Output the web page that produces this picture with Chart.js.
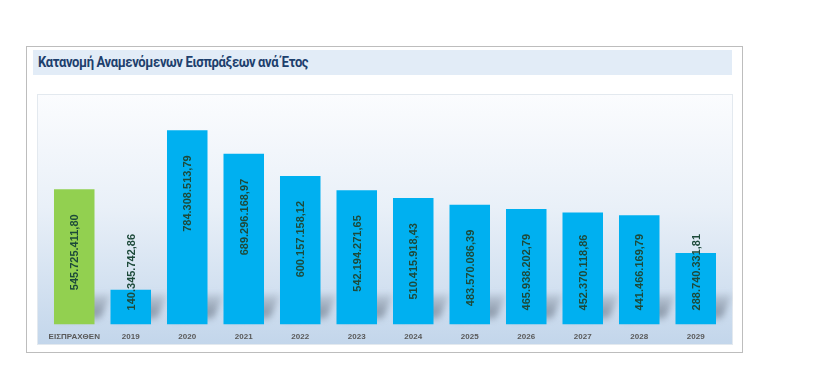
<!DOCTYPE html>
<html>
<head>
<meta charset="utf-8">
<script src="https://cdn.jsdelivr.net/npm/chart.js@4/dist/chart.umd.min.js"></script>
<style>
  body { margin: 0; background: #fff; width: 826px; height: 390px; position: relative; overflow: hidden; }
  #frame { position: absolute; left: 26px; top: 46px; width: 717px; height: 307px; border: 1px solid #bdbdbd; box-sizing: border-box; }
  #title { position: absolute; left: 33px; top: 50px; width: 699px; height: 25px; background: #e2ecf7; }
  #title span { position: absolute; left: 5px; top: 4px; font-family: Roboto, sans-serif; font-weight: 700; font-size: 14px; color: #1d3f6d;
                letter-spacing: -0.4px; white-space: nowrap; transform: scaleX(0.93); transform-origin: left center; }
  #panel { position: absolute; left: 37px; top: 94px; width: 696px; height: 251px; border: 1px solid #e3e9ef; box-sizing: border-box;
           background: linear-gradient(to bottom, #fbfcfe 0%, #e9f0f8 45%, #c3d6eb 100%); }
  #panel canvas { position: absolute; left: -1px; top: -1px; }
</style>
</head>
<body>
<div id="frame"></div>
<div id="title"><span>Κατανομή Αναμενόμενων Εισπράξεων ανά Έτος</span></div>
<div id="panel"><canvas id="chart" width="696" height="259"></canvas></div>
<script>
const categories = ['ΕΙΣΠΡΑΧΘΕΝ', '2019', '2020', '2021', '2022', '2023', '2024', '2025', '2026', '2027', '2028', '2029'];
const amounts = [545725411.80, 140345742.86, 784308513.79, 689296168.97, 600157158.12, 542194271.65,
                 510415918.43, 483570086.39, 465938202.79, 452370118.86, 441466169.79, 288740331.81];

// 784.308.513,79 style
function fmt(v) {
    const parts = v.toFixed(2).split('.');
    return parts[0].replace(/\B(?=(\d{3})+(?!\d))/g, '.') + ',' + parts[1];
}

const shadowPlugin = {
    id: 'barShadow',
    beforeDatasetsDraw(chart) {
        const ctx = chart.ctx;
        const base = chart.scales.y.getPixelForValue(0);
        ctx.save();
        ctx.filter = 'blur(3px)';
        chart.getDatasetMeta(0).data.forEach(bar => {
            const l = bar.x - bar.width / 2, r = bar.x + bar.width / 2;
            const g = ctx.createLinearGradient(0, base - 32, 0, base);
            g.addColorStop(0, 'rgba(110,120,135,0.15)');
            g.addColorStop(0.6, 'rgba(95,105,120,0.55)');
            g.addColorStop(1, 'rgba(95,105,120,0.35)');
            ctx.fillStyle = g;
            ctx.beginPath();
            ctx.moveTo(l + 4, base - 4);
            ctx.lineTo(l + 18, base - 30);
            ctx.lineTo(r + 16, base - 30);
            ctx.lineTo(r + 6, base - 6);
            ctx.closePath();
            ctx.fill();
        });
        ctx.restore();
    }
};

const labelPlugin = {
    id: 'barLabels',
    afterDatasetsDraw(chart) {
        const ctx = chart.ctx;
        const base = chart.scales.y.getPixelForValue(0);
        ctx.save();
        ctx.font = 'bold 11px "Liberation Sans", Arial, sans-serif';
        ctx.fillStyle = '#1d4a3a';
        ctx.textAlign = 'right';
        ctx.textBaseline = 'middle';
        chart.getDatasetMeta(0).data.forEach((bar, i) => {
            const txt = fmt(amounts[i]);
            const w = ctx.measureText(txt).width;
            let top = bar.y + 25;
            if (top + w > base - 14) top = base - 14 - w;
            ctx.save();
            ctx.translate(bar.x + 1, top);
            ctx.rotate(-Math.PI / 2);
            ctx.fillText(txt, 0, 0);
            ctx.restore();
        });
        ctx.restore();
    }
};

new Chart(document.getElementById('chart').getContext('2d'), {
    type: 'bar',
    data: {
        labels: categories,
        datasets: [{
            data: amounts,
            backgroundColor: categories.map((c, i) => i === 0 ? '#92d050' : '#00b0f0'),
            borderWidth: 0,
            categoryPercentage: 1,
            barPercentage: 0.717
        }]
    },
    options: {
        responsive: false,
        animation: false,
        layout: { padding: { left: 9, right: 9, top: 4, bottom: 3 } },
        scales: {
            x: {
                grid: { display: false, drawTicks: false },
                border: { display: false },
                ticks: { color: '#595959', font: { family: '"Liberation Sans", Arial, sans-serif', size: 8, weight: 'bold' },
                         padding: 8, maxRotation: 0, autoSkip: false }
            },
            y: {
                display: false,
                min: 0,
                max: 915000000
            }
        },
        plugins: {
            legend: { display: false },
            tooltip: { enabled: false }
        }
    },
    plugins: [shadowPlugin, labelPlugin]
});
</script>
</body>
</html>
